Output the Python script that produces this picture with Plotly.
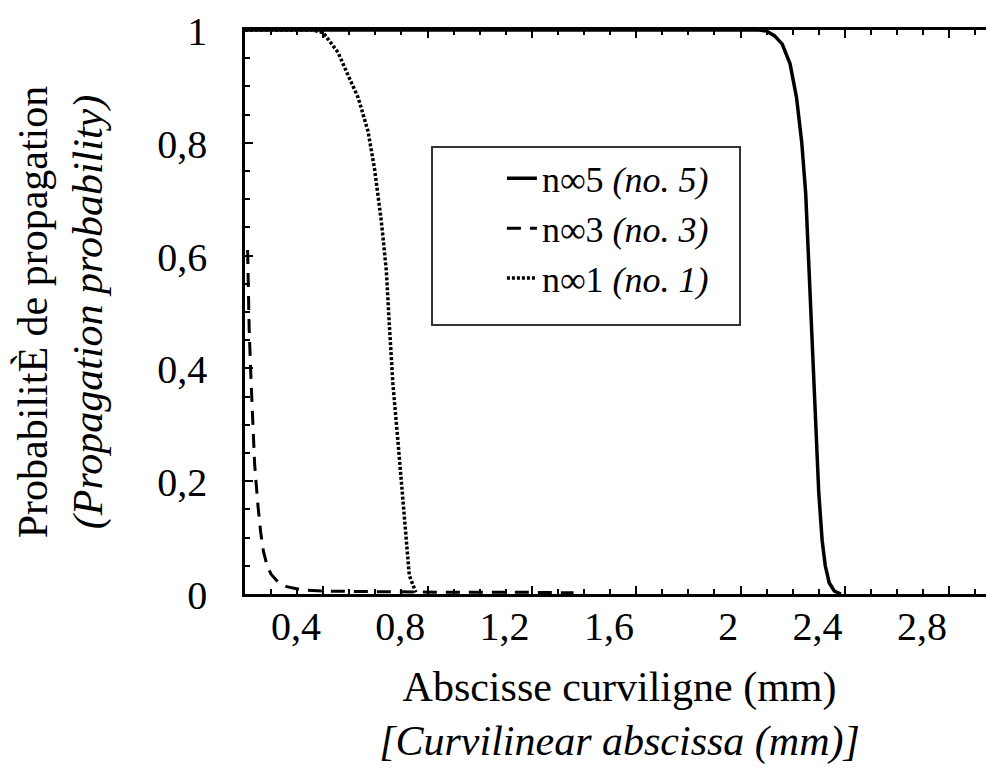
import plotly.graph_objects as go

# ---- data ----
x_no5 = [0.1, 2.07, 2.10, 2.13, 2.16, 2.19, 2.215, 2.235, 2.25, 2.262, 2.275, 2.288, 2.30, 2.313, 2.325, 2.34, 2.36, 2.385]
y_no5 = [1.0, 1.0, 0.998, 0.99, 0.975, 0.94, 0.88, 0.80, 0.71, 0.575, 0.44, 0.31, 0.18, 0.095, 0.05, 0.02, 0.005, 0.0]

x_no3 = [0.11, 0.116, 0.123, 0.130, 0.137, 0.149, 0.16, 0.171, 0.185, 0.2, 0.225, 0.26, 0.32, 0.40, 0.6, 0.9, 1.2, 1.36]
y_no3 = [0.61, 0.47, 0.38, 0.30, 0.23, 0.16, 0.11, 0.075, 0.05, 0.035, 0.022, 0.013, 0.007, 0.005, 0.004, 0.003, 0.003, 0.002]

x_no1 = [0.1, 0.36, 0.40, 0.457, 0.495, 0.534, 0.572, 0.597, 0.623, 0.642, 0.654, 0.667, 0.686, 0.705, 0.718, 0.73, 0.755]
y_no1 = [1.0, 1.0, 0.995, 0.96, 0.92, 0.88, 0.82, 0.753, 0.66, 0.573, 0.473, 0.373, 0.273, 0.173, 0.087, 0.033, 0.003]

x_tickvals = [0.4, 0.8, 1.2, 1.6, 2.0, 2.4, 2.8]
x_ticktext = ["0,4", "0,8", "1,2", "1,6", "2", "2,4", "2,8"]
y_tickvals = [0, 0.2, 0.4, 0.6, 0.8, 1.0]
y_ticktext = ["0", "0,2", "0,4", "0,6", "0,8", "1"]

names = ["n∞5 <i>(no. 5)</i>", "n∞3 <i>(no. 3)</i>", "n∞1 <i>(no. 1)</i>"]

FONT = "Liberation Serif, Times New Roman, serif"

fig = go.Figure()
fig.add_trace(go.Scatter(x=x_no5, y=y_no5, mode="lines", name=names[0],
                         line=dict(color="black", width=3.5, dash="solid")))
fig.add_trace(go.Scatter(x=x_no3, y=y_no3, mode="lines", name=names[1],
                         line=dict(color="black", width=3, dash="14px,9px")))
fig.add_trace(go.Scatter(x=x_no1, y=y_no1, mode="lines", name=names[2],
                         line=dict(color="black", width=3.5, dash="3px,2px")))

fig.update_layout(
    width=986, height=763,
    margin=dict(l=237, r=0, t=22, b=177),
    paper_bgcolor="white", plot_bgcolor="white",
    font=dict(family=FONT, color="black", size=36),
    showlegend=True,
    legend=dict(
        x=0.343, y=0.79, xanchor="left", yanchor="top",
        bgcolor="rgba(0,0,0,0)", borderwidth=0,
        font=dict(family=FONT, size=36, color="black"),
        traceorder="normal",
    ),
    xaxis=dict(
        range=[0.1, 2.972], showgrid=False, zeroline=False, automargin=False,
        showline=True, linecolor="black", linewidth=2.5, mirror="ticks",
        tickmode="array", tickvals=x_tickvals, ticktext=x_ticktext,
        ticks="inside", ticklen=8, tickwidth=2, tickcolor="black",
        ticklabelposition="outside left", ticklabelstandoff=-5,
        ticklabeloverflow="allow",
        tickfont=dict(family=FONT, size=40, color="black"),
        minor=dict(dtick=0.1, tick0=0.0, ticks="inside", ticklen=5, tickwidth=2, tickcolor="black"),
        title=dict(text="Abscisse curviligne (mm)<br><i>[Curvilinear abscissa (mm)]</i>",
                   font=dict(family=FONT, size=42, color="black"), standoff=24),
    ),
    yaxis=dict(
        range=[0, 1], showgrid=False, zeroline=False, automargin=False,
        showline=True, linecolor="black", linewidth=2.5, mirror=False,
        tickmode="array", tickvals=y_tickvals, ticktext=y_ticktext,
        ticks="inside", ticklen=8, tickwidth=2, tickcolor="black",
        ticklabelstandoff=27, ticklabelshift=1, ticklabeloverflow="allow",
        tickfont=dict(family=FONT, size=40, color="black"),
        minor=dict(dtick=0.05, tick0=0.0, ticks="inside", ticklen=5, tickwidth=2, tickcolor="black"),
        title=dict(text="ProbabilitÈ de propagation<br><i>(Propagation probability)</i>",
                   font=dict(family=FONT, size=42, color="black"), standoff=42),
    ),
    yaxis2=dict(
        overlaying="y", side="right", range=[0, 1], showgrid=False, zeroline=False,
        automargin=False,
        showline=False, tickmode="array", tickvals=[0.2, 0.4, 0.6, 0.8],
        ticks="inside", ticklen=5, tickwidth=2, tickcolor="black", showticklabels=False,
    ),
    shapes=[dict(type="rect", xref="paper", yref="paper",
                 x0=0.2497, x1=0.6609, y0=0.477, y1=0.7926,
                 line=dict(color="#333333", width=2), fillcolor="rgba(0,0,0,0)", layer="above")],
)

fig.write_html("out.html")
